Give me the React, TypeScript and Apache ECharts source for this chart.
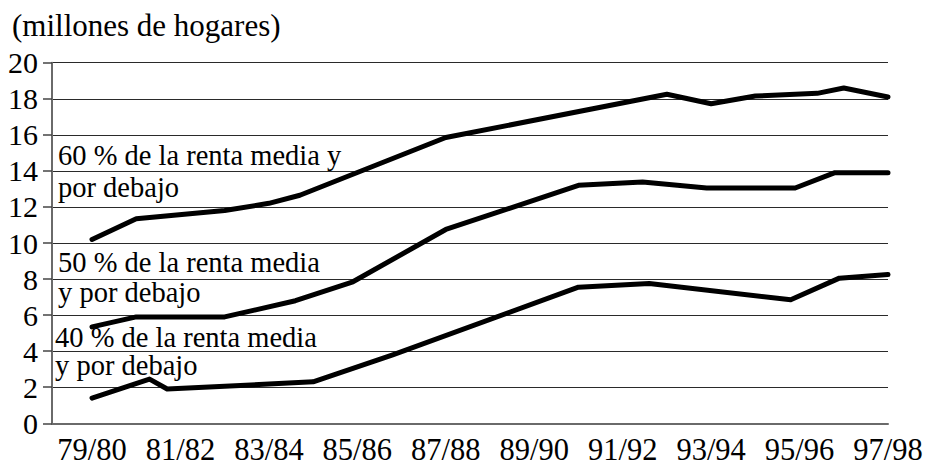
import React, { useEffect, useRef } from "react";
import * as echarts from "echarts";

// x positions are in years counted from 79/80 (0) to 97/98 (18)
const xCategories = ["79/80", "81/82", "83/84", "85/86", "87/88", "89/90", "91/92", "93/94", "95/96", "97/98"];
const xTickValues = [0, 2, 4, 6, 8, 10, 12, 14, 16, 18];

const t60 = [0, 1, 3, 4, 4.7, 8, 13, 14, 15, 16.4, 17, 18];
const v60 = [10.2, 11.35, 11.8, 12.2, 12.65, 15.85, 18.25, 17.72, 18.15, 18.3, 18.6, 18.1];

const t50 = [0, 1, 3, 4.6, 5.9, 8, 11, 12.45, 13.9, 15.9, 16.8, 18];
const v50 = [5.35, 5.9, 5.9, 6.8, 7.85, 10.75, 13.2, 13.38, 13.05, 13.05, 13.9, 13.9];

const t40 = [0, 1.3, 1.7, 5, 6.8, 11, 12.6, 15.8, 16.9, 18];
const v40 = [1.4, 2.45, 1.9, 2.3, 3.8, 7.55, 7.75, 6.85, 8.05, 8.25];

const yTicks = { min: 0, max: 20, interval: 2 };

const unitLabel = "(millones de hogares)";
const seriesLabels = [
  ["60 % de la renta media y", "por debajo"],
  ["50 % de la renta media", "y por debajo"],
  ["40 % de la renta media", "y por debajo"],
];

const FONT = "Liberation Serif, Times New Roman, serif";

function pairs(t: number[], v: number[]) {
  return t.map((x, i) => [x, v[i]]);
}

export default function App() {
  const ref = useRef<HTMLDivElement>(null);
  useEffect(() => {
    if (!ref.current) return;
    const chart = echarts.init(ref.current, null, { renderer: "svg" });
    const lineStyle = { color: "#000", width: 5, cap: "round", join: "round" };
    const mkText = (text: string, x: number, baseline: number, size: number) => ({
      type: "text",
      x,
      y: baseline - size * 0.34,
      silent: true,
      style: {
        text,
        fill: "#000",
        fontSize: size,
        fontFamily: FONT,
        align: "left",
        verticalAlign: "middle",
        textAlign: "left",
        textVerticalAlign: "middle",
      },
    });
    chart.setOption({
      animation: false,
      backgroundColor: "#fff",
      textStyle: { fontFamily: FONT },
      grid: {
        left: 52,
        right: 42,
        top: 62.7,
        bottom: 44.7,
        containLabel: false,
        outerBoundsMode: "none",
      },
      xAxis: {
        type: "value",
        min: -0.905,
        max: 18,
        splitLine: { show: false },
        axisTick: { show: false },
        axisLine: { show: true, onZero: false, lineStyle: { color: "#6a6a6a", width: 2 } },
        axisLabel: {
          customValues: xTickValues,
          showMinLabel: true,
          showMaxLabel: true,
          margin: 12,
          color: "#000",
          fontSize: 30.5,
          fontFamily: FONT,
          lineHeight: 30,
          formatter: (val: number) => {
            const idx = xTickValues.indexOf(Math.round(val));
            return idx >= 0 ? xCategories[idx] : "";
          },
        },
      },
      yAxis: {
        type: "value",
        min: yTicks.min,
        max: yTicks.max,
        interval: yTicks.interval,
        axisLine: { show: true, onZero: false, lineStyle: { color: "#6a6a6a", width: 2 } },
        axisTick: { show: true, inside: false, length: 9, lineStyle: { color: "#444", width: 1.5 } },
        splitLine: { show: true, lineStyle: { color: "#2a2a2a", width: 1 } },
        axisLabel: {
          margin: 14,
          color: "#000",
          fontSize: 30,
          fontFamily: FONT,
        },
      },
      series: [
        { type: "line", data: pairs(t60, v60), showSymbol: false, lineStyle, silent: true },
        { type: "line", data: pairs(t50, v50), showSymbol: false, lineStyle, silent: true },
        { type: "line", data: pairs(t40, v40), showSymbol: false, lineStyle, silent: true },
      ],
      graphic: [
        mkText(unitLabel, 12, 36, 31),
        mkText(seriesLabels[0][0], 58, 165, 28.5),
        mkText(seriesLabels[0][1], 58, 197, 28.5),
        mkText(seriesLabels[1][0], 58, 272, 28.5),
        mkText(seriesLabels[1][1], 58, 302, 28.5),
        mkText(seriesLabels[2][0], 55, 347, 28.5),
        mkText(seriesLabels[2][1], 55, 375, 28.5),
      ],
    });
    return () => chart.dispose();
  }, []);
  return (
    <div
      ref={ref}
      style={{ position: "fixed", left: 0, top: 0, width: 930, height: 468, background: "#fff" }}
    />
  );
}
